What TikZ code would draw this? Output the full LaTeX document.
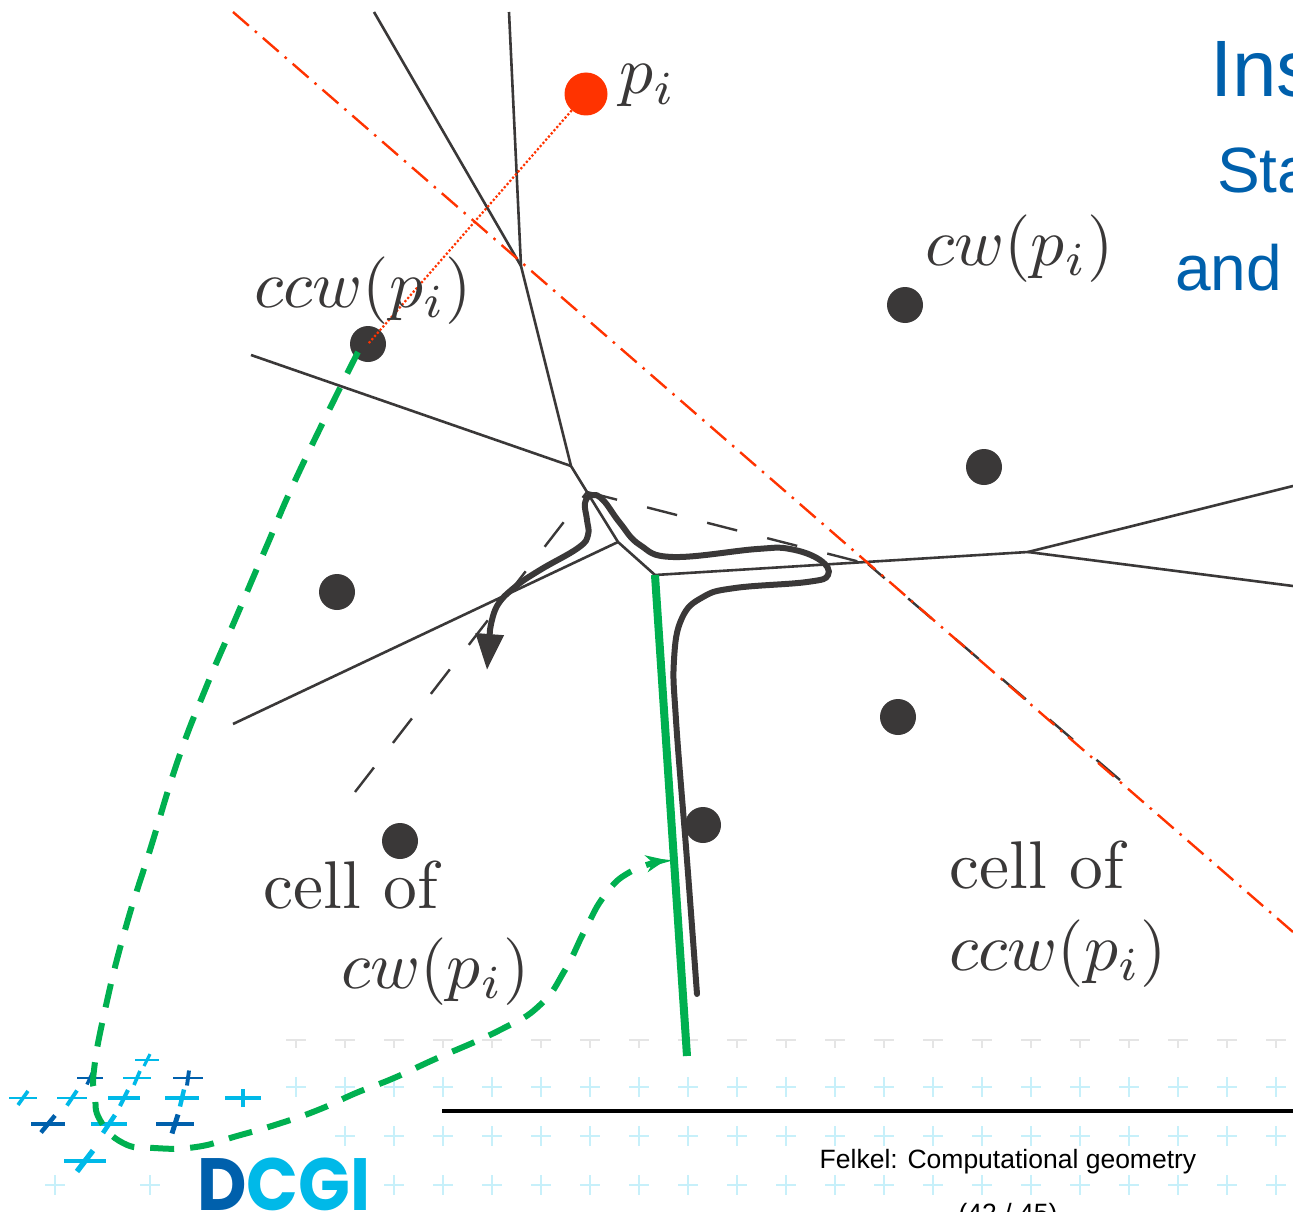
\documentclass[tikz,border=0pt]{standalone}
\usepackage{fontspec}
\newfontfamily\arialfont{Liberation Sans}
\newfontfamily\logofont{Poppins}
\usetikzlibrary{arrows.meta}
\definecolor{inkdark}{HTML}{3A3838}
\definecolor{redline}{HTML}{FF3300}
\definecolor{greenline}{HTML}{00B050}
\definecolor{titleblue}{HTML}{0060AC}
\definecolor{logodark}{HTML}{0060AC}
\definecolor{logolight}{HTML}{00B9E8}

\begin{document}
\begin{tikzpicture}[
    x=1pt, y=-1pt,
    site/.style={circle, fill=inkdark, minimum size=36pt, inner sep=0pt},
    newsite/.style={circle, fill=redline, minimum size=43pt, inner sep=0pt},
    edgeline/.style={inkdark, line width=2.6pt},
    oldedge/.style={inkdark, line width=2.4pt, dash pattern=on 31pt off 31pt},
    bisector/.style={redline, line width=2.4pt, dash pattern=on 21pt off 8pt on 2.5pt off 8pt},
    walk/.style={inkdark, line width=6pt, line cap=round},
    marker/.style={greenline, line width=6pt, dash pattern=on 24pt off 16pt},
    mathlabel/.style={inkdark, scale=6.75, anchor=base west, inner sep=0pt},
    titletext/.style={titleblue, anchor=base west, inner sep=0pt},
    faintplus/.style={line width=2pt, draw=logolight!22},
]

\useasboundingbox (0,0) rectangle (1293,1212);
\clip (0,0) rectangle (1293,1212);

% Faint crosses behind the footer
\foreach \x in {296,345,...,1300} {
    \draw[line width=2pt, draw=black!10] (\x-10,1040) -- (\x+10,1040) (\x,1040) -- (\x,1048);
    \draw[faintplus] (\x-10,1087) -- (\x+10,1087) (\x,1077) -- (\x,1097);
}
\foreach \x in {345,394,...,1300} {
    \draw[faintplus] (\x-10,1136) -- (\x+10,1136) (\x,1126) -- (\x,1146);
}
\foreach \x in {55,150,394,443,...,1300} {
    \draw[faintplus] (\x-10,1185) -- (\x+10,1185) (\x,1175) -- (\x,1195);
}

% Logo crosses
\foreach \x/\y/\r/\s/\c in {147/1060/12/3/logolight, 90/1078/13/3/logodark, 137/1078/14/3/logolight,
    188/1078/15/1/logodark, 23/1098/14/5/logolight, 72/1098/15/5/logolight, 124/1098/16/4/logolight,
    182/1098/17/2/logolight, 243/1098/18/0/logolight, 48/1124/17/7/logodark, 109/1124/18/6/logolight,
    175/1124/19/3/logodark, 85/1161/21/8/logolight} {
    \draw[\c, line width=\r*0.19pt] (\x-\r,\y) -- (\x+\r,\y);
    \draw[\c, line width=\r*0.26pt] (\x-\s,\y+\r*0.5) -- (\x+\s,\y-\r*0.5);
}
\node[anchor=base west, inner sep=0pt, xscale=.92] (logo) at (197,1210)
    {\logofont\bfseries\fontsize{74}{74}\selectfont\textcolor{logodark}{D}\textcolor{logolight}{CGI}};

% Footer
\coordinate (rulestart) at (442,1111);
\coordinate (ruleend) at (1293,1111);
\draw[black, line width=4pt] (rulestart) -- (ruleend);
\node[anchor=base, inner sep=0pt] (footer) at (1008,1168)
    {\arialfont\fontsize{26.5}{26.5}\selectfont Felkel: Computational geometry};
\node[anchor=base, inner sep=0pt] (pageno) at (1008,1222)
    {\arialfont\fontsize{26.5}{26.5}\selectfont (42 / 45)};

% Title, cut by the page edge
\node[titletext] (titlea) at (1210,97) {\arialfont\fontsize{80}{80}\selectfont Ins};
\node[titletext] (titleb) at (1217,193) {\arialfont\fontsize{64}{64}\selectfont Sta};
\node[titletext] (titlec) at (1175,290) {\arialfont\fontsize{64}{64}\selectfont and};

% Voronoi vertices and free ends
\coordinate (topa) at (374,12);
\coordinate (topb) at (509,12);
\coordinate (va) at (521,266);
\coordinate (vb) at (571,466);
\coordinate (vc) at (587,492);
\coordinate (vd) at (618,542);
\coordinate (ve) at (655,575);
\coordinate (vf) at (1028,552);
\coordinate (lefta) at (251,355);
\coordinate (leftb) at (233,724);
\coordinate (righta) at (1293,486);
\coordinate (rightb) at (1293,586);
\coordinate (bend) at (868,564);
\coordinate (oldend) at (1120,780);
\coordinate (oldleft) at (355,792);
\coordinate (bisa) at (233,12);
\coordinate (bisb) at (1293,932);
\coordinate (greenend) at (687,1056);
\coordinate (greenhit) at (666,860);
\coordinate (markerstart) at (358,352);
\coordinate (walktip) at (487,670);

% Sites
\node[newsite] (pnew) at (586,94) {};
\node[site] (ccwsite) at (368,344) {};
\node[site] (cwsite) at (905,305) {};
\node[site] (sa) at (984,467) {};
\node[site] (sb) at (337,592) {};
\node[site] (sc) at (898,717) {};
\node[site] (sd) at (703,825) {};
\node[site] (se) at (400,841) {};

% Voronoi edges
\draw[edgeline] (topa) -- (va);
\draw[edgeline] (topb) -- (va) -- (vb) -- (vc) -- (vd) -- (ve) -- (vf) -- (righta);
\draw[edgeline] (vf) -- (rightb);
\draw[edgeline] (lefta) -- (vb);
\draw[edgeline] (leftb) -- (vd);
\draw[oldedge] (vc) -- (bend);
\draw[oldedge] (oldend) -- (bend);
\draw[oldedge] (oldleft) -- (vc);

% Walk along the cell
\draw[walk, -{Triangle[length=36pt, width=27pt]}] plot[smooth, tension=.7] coordinates {
    (697,994) (687,860) (676,720) (674,660) (682,618) (703,597) (735,588) (807,582) (828,575) (820,560)
    (790,549) (757,549) (673,557) (640,545) (620,523) (603,500) (592,495) (585,503) (587,520) (588,535)
    (578,548) (540,570) (515,587) (497,606) (490,630)} -- (walktip);

% New line and bisector
\draw[bisector] (bisa) -- (bisb);
\draw[redline, line width=2.2pt, dotted] (pnew) -- (ccwsite.center);
\draw[greenline, line width=8pt] (ve) -- (greenend);
\draw[marker, -{Stealth[length=20pt, width=17pt]}] plot[smooth, tension=.8] coordinates {
    (markerstart) (300,470) (265,550) (235,620) (205,690) (178,760) (150,850) (125,930) (105,1010) (94,1070)
    (95,1095) (100,1120) (123,1143) (154,1148) (196,1147) (237,1136) (278,1124) (318,1110) (356,1093)
    (394,1078) (433,1060) (500,1030) (540,1005) (565,970) (585,930) (605,895) (630,872) (greenhit)};

% Labels
\node[mathlabel] (pilabel) at (618,94) {$p_i$};
\node[mathlabel] (ccwlabel) at (253,307) {$ccw(p_i)$};
\node[mathlabel] (cwlabel) at (924,265) {$cw(p_i)$};
\node[mathlabel] (cella) at (262,908) {cell of};
\node[mathlabel] (cellacw) at (340,988) {$cw(p_i)$};
\node[mathlabel] (cellb) at (948,888) {cell of};
\node[mathlabel] (cellbccw) at (948,970) {$ccw(p_i)$};

\end{tikzpicture}
\end{document}
